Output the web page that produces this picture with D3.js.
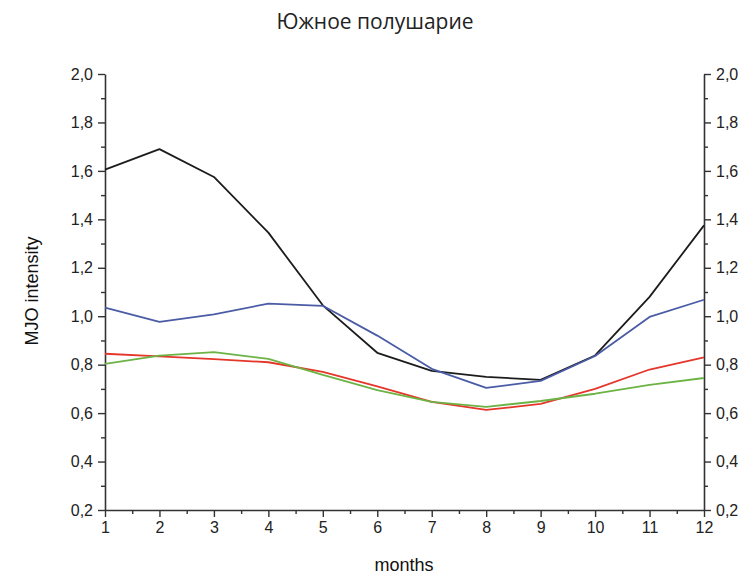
<!DOCTYPE html>
<html>
<head>
<meta charset="utf-8">
<script src="https://cdn.jsdelivr.net/npm/d3@7"></script>
<style>
  html, body { margin: 0; padding: 0; background: #fff; }
  svg { display: block; }
</style>
</head>
<body>
<svg id="chart" width="751" height="577"></svg>
<script>
// Monthly MJO intensity, Southern Hemisphere
const months = [1, 2, 3, 4, 5, 6, 7, 8, 9, 10, 11, 12];
const blackSeries = [1.605, 1.69, 1.575, 1.345, 1.045, 0.849, 0.774, 0.75, 0.737, 0.838, 1.08, 1.375];
const blueSeries  = [1.035, 0.977, 1.008, 1.052, 1.043, 0.92, 0.783, 0.704, 0.733, 0.836, 0.997, 1.068];
const redSeries   = [0.845, 0.834, 0.823, 0.81, 0.77, 0.71, 0.646, 0.613, 0.638, 0.70, 0.78, 0.83];
const greenSeries = [0.803, 0.837, 0.852, 0.824, 0.758, 0.695, 0.646, 0.626, 0.65, 0.68, 0.717, 0.745];
const yTicks = [0.2, 0.4, 0.6, 0.8, 1.0, 1.2, 1.4, 1.6, 1.8, 2.0];
const yMinorTicks = [0.3, 0.5, 0.7, 0.9, 1.1, 1.3, 1.5, 1.7, 1.9];
const xMinorTicks = [1.5, 2.5, 3.5, 4.5, 5.5, 6.5, 7.5, 8.5, 9.5, 10.5, 11.5];

const series = [
  { values: blackSeries, color: "#1c1c1c" },
  { values: blueSeries,  color: "#4a5ca6" },
  { values: redSeries,   color: "#e5362a" },
  { values: greenSeries, color: "#6cb345" }
];

const svg = d3.select("#chart");
const plotLeft = 105, plotRight = 704, plotTop = 74, plotBottom = 510;

const x = d3.scaleLinear().domain([1, 12]).range([plotLeft, plotRight]);
const y = d3.scaleLinear().domain([0.2, 2.0]).range([plotBottom, plotTop]);

const fmt = d => d3.format(".1f")(d).replace(".", ",");
const axisColor = "#333";
const tickFont = "Liberation Sans, Arial, sans-serif";

function styleAxis(g) {
  g.select(".domain").attr("stroke", axisColor).attr("stroke-width", 1.6);
  g.selectAll(".tick line").attr("stroke", axisColor).attr("stroke-width", 1.4);
  g.selectAll(".tick text").attr("fill", "#222").style("font-family", tickFont).style("font-size", "16px");
}
function styleMinor(g) {
  g.select(".domain").remove();
  g.selectAll("line").attr("stroke", axisColor).attr("stroke-width", 1.4);
}

// left axis
const gl = svg.append("g").attr("transform", `translate(${plotLeft},0)`)
  .call(d3.axisLeft(y).tickValues(yTicks).tickFormat(fmt).tickSize(7).tickSizeOuter(0).tickPadding(5));
styleAxis(gl);
svg.append("g").attr("transform", `translate(${plotLeft},0)`)
  .call(d3.axisLeft(y).tickValues(yMinorTicks).tickFormat("").tickSize(4).tickSizeOuter(0))
  .call(styleMinor);

// right axis
const gr = svg.append("g").attr("transform", `translate(${plotRight},0)`)
  .call(d3.axisRight(y).tickValues(yTicks).tickFormat(fmt).tickSize(7).tickSizeOuter(0).tickPadding(5));
styleAxis(gr);
svg.append("g").attr("transform", `translate(${plotRight},0)`)
  .call(d3.axisRight(y).tickValues(yMinorTicks).tickFormat("").tickSize(4).tickSizeOuter(0))
  .call(styleMinor);

// bottom axis
const gb = svg.append("g").attr("transform", `translate(0,${plotBottom})`)
  .call(d3.axisBottom(x).tickValues(months).tickFormat(d3.format("d")).tickSize(7).tickSizeOuter(0).tickPadding(5));
styleAxis(gb);
svg.append("g").attr("transform", `translate(0,${plotBottom})`)
  .call(d3.axisBottom(x).tickValues(xMinorTicks).tickFormat("").tickSize(4).tickSizeOuter(0))
  .call(styleMinor);

// data lines
const line = d3.line().x((d, i) => x(months[i])).y(d => y(d));
svg.append("g").selectAll("path").data(series).join("path")
  .attr("d", d => line(d.values))
  .attr("fill", "none")
  .attr("stroke", d => d.color)
  .attr("stroke-width", 1.8)
  .attr("stroke-linejoin", "round");

// title and axis labels
svg.append("text").attr("x", 375).attr("y", 29).attr("text-anchor", "middle")
  .style("font-family", "Open Sans, sans-serif").style("font-size", "21px").attr("fill", "#222")
  .text("Южное полушарие");
svg.append("text").attr("x", 404).attr("y", 571).attr("text-anchor", "middle")
  .style("font-family", tickFont).style("font-size", "18px").attr("fill", "#111")
  .text("months");
svg.append("text").attr("transform", "translate(38,291) rotate(-90)").attr("text-anchor", "middle")
  .style("font-family", tickFont).style("font-size", "18px").attr("fill", "#111")
  .text("MJO intensity");
</script>
</body>
</html>
